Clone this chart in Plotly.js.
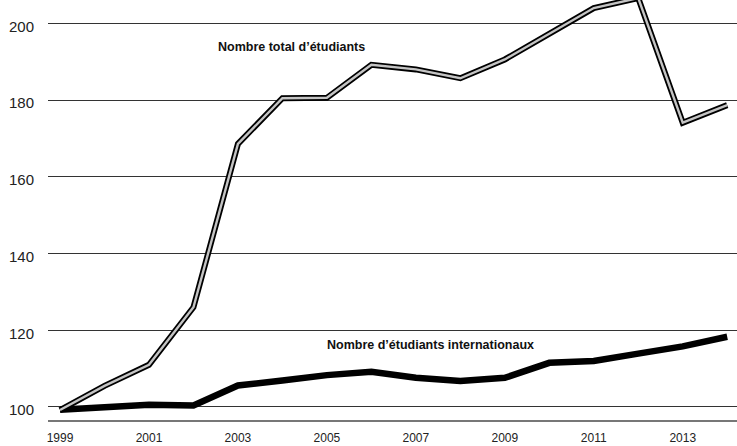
<!DOCTYPE html>
<html>
<head>
<meta charset="utf-8">
<script src="https://cdn.plot.ly/plotly-3.0.1.min.js"></script>
<style>html,body{margin:0;padding:0;background:#fff;}#chart{width:737px;height:446px;}</style>
</head>
<body>
<div id="chart"></div>
<script>
const years = [1999,2000,2001,2002,2003,2004,2005,2006,2007,2008,2009,2010,2011,2012,2013,2014];
const totalStudents = [99.2,105.5,111.0,126.0,168.6,180.5,180.6,189.2,188.0,185.7,190.6,197.3,204.0,206.6,174.1,178.7];
const intlStudents = [99.3,99.8,100.6,100.4,105.6,106.9,108.3,109.2,107.6,106.8,107.6,111.5,112.0,113.9,115.8,118.3];
const labelTotal = "Nombre total d’étudiants";
const labelIntl = "Nombre d’étudiants internationaux";
const yTicks = [100,120,140,160,180,200];
const xTicks = [1999,2001,2003,2005,2007,2009,2011,2013];

const traces = [
  {x: years, y: intlStudents, mode: 'lines', line: {color: '#000', width: 6.5}, hoverinfo: 'skip'},
  {x: years, y: totalStudents, mode: 'lines', line: {color: '#000', width: 6}, hoverinfo: 'skip'},
  {x: years, y: totalStudents, mode: 'lines', line: {color: '#c4c4c4', width: 2.4}, hoverinfo: 'skip'}
];

const layout = {
  width: 737, height: 446,
  margin: {l: 48, r: 0, t: 0, b: 26},
  paper_bgcolor: '#fff', plot_bgcolor: '#fff',
  showlegend: false,
  font: {family: 'Liberation Sans, Arial, sans-serif', color: '#222'},
  xaxis: {
    range: [1998.73, 2014.22],
    tickvals: xTicks, ticktext: xTicks.map(String),
    showgrid: false, zeroline: false,
    showline: true, linecolor: '#777', linewidth: 1.5,
    ticks: 'outside', ticklen: 6, tickcolor: 'rgba(0,0,0,0)',
    tickfont: {size: 12, color: '#222'}
  },
  yaxis: {
    range: [96.6, 206.1],
    tickvals: yTicks, ticktext: yTicks.map(String),
    showgrid: true, gridcolor: '#333', gridwidth: 1,
    zeroline: false, showline: false,
    ticks: 'outside', ticklen: 10, tickcolor: 'rgba(0,0,0,0)',
    ticklabelshift: 3,
    tickfont: {size: 15, color: '#222'}
  },
  annotations: [
    {x: 2004.21, y: 193.8, xref: 'x', yref: 'y', text: '<b>' + labelTotal + '</b>', showarrow: false,
     font: {size: 12.5, color: '#111'}},
    {x: 2007.32, y: 116.15, xref: 'x', yref: 'y', text: '<b>' + labelIntl + '</b>', showarrow: false,
     font: {size: 12.5, color: '#111'}}
  ]
};

Plotly.newPlot('chart', traces, layout, {staticPlot: true, displayModeBar: false});
</script>
</body>
</html>
